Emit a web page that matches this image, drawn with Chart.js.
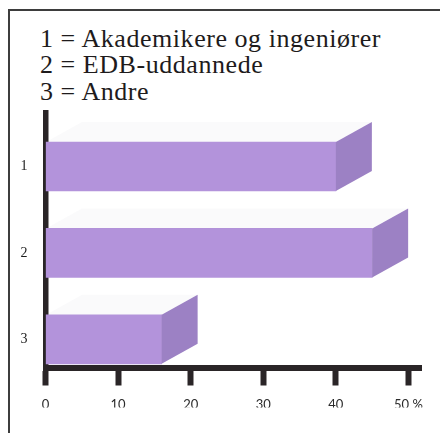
<!DOCTYPE html>
<html>
<head>
<meta charset="utf-8">
<script src="https://cdn.jsdelivr.net/npm/chart.js@4.4.1/dist/chart.umd.min.js"></script>
<style>
  html, body { margin: 0; padding: 0; background: #fff; }
  #wrap { position: relative; width: 440px; height: 433px; overflow: hidden; }
  #frame { position: absolute; left: 8px; top: 9px; right: -5px; bottom: -5px;
           border-left: 2px solid #3d3d3d; border-top: 2px solid #3d3d3d; }
  #key { position: absolute; left: 40px; top: 26px; font-family: "Liberation Serif", serif;
         font-size: 26px; line-height: 26.4px; color: #1e1b1c; letter-spacing: 0.55px; white-space: nowrap; }
  canvas { position: absolute; left: 0; top: 0; }
</style>
</head>
<body>
<div id="wrap">
  <div id="frame"></div>
  <div id="key"></div>
  <canvas id="groupChart" width="440" height="433"></canvas>
</div>
<script>
const categories = ["1", "2", "3"];
const categoryNames = ["Akademikere og ingeniører", "EDB-uddannede", "Andre"];
const shares = [40, 45, 16];
const xTicks = [0, 10, 20, 30, 40, 50];

const AXIS = "#2a2527";
const FRONT = "#b393db";
const SIDE = "#9c81c4";
const TOP = "rgba(120,110,130,0.035)";
const DX = 36, DY = -20;

// key text above the chart
document.getElementById("key").innerHTML = categories
  .map((c, i) => c + " = " + categoryNames[i])
  .join("<br>");

// draws the depth of each bar (top and right faces)
const barDepth = {
  id: "barDepth",
  afterDatasetsDraw(chart) {
    const ctx = chart.ctx;
    const meta = chart.getDatasetMeta(0);
    ctx.save();
    meta.data.forEach(bar => {
      const { x, y, base, height } = bar.getProps(["x", "y", "base", "height"], true);
      const top = y - height / 2;
      const bottom = y + height / 2;

      ctx.fillStyle = TOP;
      ctx.beginPath();
      ctx.moveTo(base, top);
      ctx.lineTo(x, top);
      ctx.lineTo(x + DX, top + DY);
      ctx.lineTo(base + DX, top + DY);
      ctx.closePath();
      ctx.fill();

      ctx.fillStyle = SIDE;
      ctx.beginPath();
      ctx.moveTo(x, top);
      ctx.lineTo(x + DX, top + DY);
      ctx.lineTo(x + DX, bottom + DY);
      ctx.lineTo(x, bottom);
      ctx.closePath();
      ctx.fill();
    });
    ctx.restore();
  }
};

const ctx = document.getElementById("groupChart").getContext("2d");

new Chart(ctx, {
  type: "bar",
  data: {
    datasets: [
      {
        data: shares.map((v, i) => ({ x: v, y: i + 1 })),
        backgroundColor: FRONT,
        borderWidth: 0,
        barThickness: 49,
      },
    ],
  },
  options: {
    indexAxis: "y",
    responsive: false,
    animation: false,
    layout: { padding: { top: 113, left: 5.5, right: 18.5, bottom: 25.5 } },
    plugins: {
      legend: { display: false },
      tooltip: { enabled: false },
    },
    scales: {
      x: {
        type: "linear",
        min: 0,
        max: 51.8,
        z: 1,
        afterBuildTicks: s => { s.ticks = xTicks.map(v => ({ value: v })); },
        afterFit: s => { s.height = 40; },
        grid: {
          drawOnChartArea: false,
          drawTicks: true,
          tickLength: 18,
          tickWidth: 6,
          tickColor: AXIS,
        },
        border: { display: true, width: 6, color: AXIS },
        ticks: {
          padding: 12,
          maxRotation: 0,
          color: "#2b2b2b",
          font: { family: "Lato", size: 13 },
          callback: v => (v === 50 ? "50 %" : String(v)),
        },
      },
      y: {
        type: "linear",
        reverse: true,
        offset: false,
        min: 0.381,
        max: 3.326,
        z: 1,
        afterBuildTicks: s => { s.ticks = categories.map((c, i) => ({ value: i + 1 })); },
        afterFit: s => { s.width = 40; },
        grid: { display: false, drawTicks: false, offset: false },
        border: { display: true, width: 5.5, color: AXIS },
        ticks: {
          padding: 18,
          color: "#1a1a1a",
          font: { family: "Liberation Serif", size: 14 },
          callback: v => categories[v - 1],
        },
      },
    },
  },
  plugins: [barDepth],
});
</script>
</body>
</html>
